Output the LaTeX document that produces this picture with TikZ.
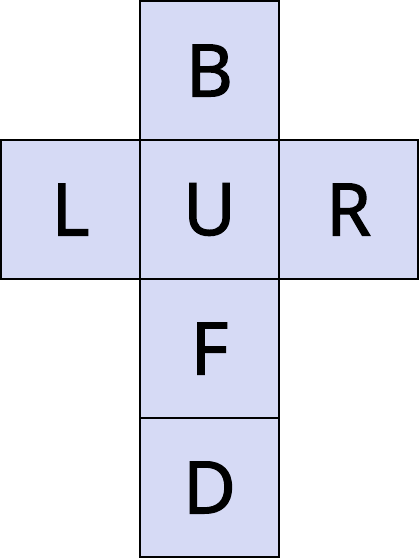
\documentclass[tikz,border=0pt]{standalone}
\usepackage{fontspec}
\newfontfamily\facefont[FakeBold=2.2]{Open Sans}
\definecolor{facefill}{RGB}{214,218,245}
\tikzset{
  face/.style={draw=black,fill=facefill,line width=1pt,minimum size=104.25pt,inner sep=0pt,outer sep=0pt,font=\facefont\fontsize{54}{58}\selectfont}
}
\begin{document}
\begin{tikzpicture}[x=1pt,y=1pt]
\useasboundingbox (0,0) rectangle (314.25,-418.5);

\node[face] (B) at (157.125,-52.875) {B};
\node[face] (L) at (52.875,-157.125) {L};
\node[face] (U) at (157.125,-157.125) {U};
\node[face] (R) at (261.375,-157.125) {R};
\node[face] (F) at (157.125,-261.375) {F};
\node[face] (D) at (157.125,-365.625) {D};

\end{tikzpicture}
\end{document}
